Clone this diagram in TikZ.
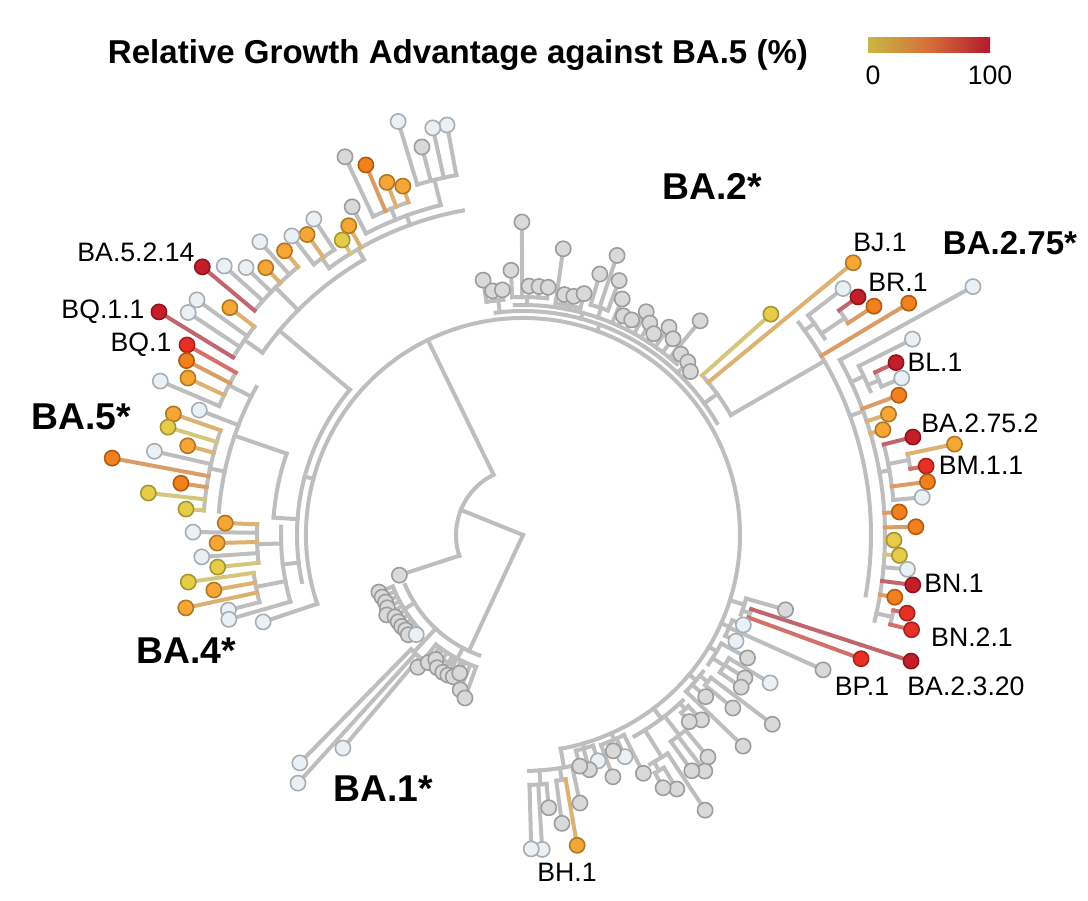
\documentclass[tikz,border=0pt]{standalone}
\usepackage{fontspec}
\setmainfont{Liberation Sans}
\usetikzlibrary{positioning}
\definecolor{color_branch}{RGB}{190,190,190}
\definecolor{color_grey}{RGB}{217,217,217}
\definecolor{color_pale}{RGB}{233,240,246}
\definecolor{color_red}{RGB}{196,30,42}
\definecolor{color_scar}{RGB}{230,48,38}
\definecolor{color_oran}{RGB}{242,128,28}
\definecolor{color_amber}{RGB}{245,166,52}
\definecolor{color_yel}{RGB}{230,205,72}
\definecolor{color_low}{RGB}{200,184,66}
\definecolor{color_mid}{RGB}{214,110,58}
\definecolor{color_high}{RGB}{178,26,44}
\pgfdeclarelayer{tips}
\pgfsetlayers{main,tips}
\newcounter{tipno}
\newcounter{cladeno}
\tikzset{
  branch/.style={draw=color_branch, line width=3pt, line cap=rect},
  tip/.style={circle, inner sep=0pt, minimum size=11.4pt, line width=1.2pt},
  tiplabel/.style={font=\fontsize{20}{24}\selectfont},
  cladelabel/.style={font=\bfseries\fontsize{28}{32}\selectfont}
}
% arc from #1 to #2 at radius #3, hung at angle #4 from radius #5
\newcommand{\clade}[5]{%
  \stepcounter{cladeno}%
  \coordinate (p\thecladeno) at (#4:#5);
  \coordinate (q\thecladeno) at (#4:#3);
  \coordinate (a\thecladeno) at (#1:#3);
  \draw[branch] (p\thecladeno) -- (q\thecladeno);
  \draw[branch] (a\thecladeno) arc[start angle=#1, end angle=#2, radius=#3];}
% angle, base radius, tip radius, fill, stem colour
\newcommand{\tipleaf}[5]{%
  \stepcounter{tipno}%
  \coordinate (b\thetipno) at (#1:#2);
  \coordinate (e\thetipno) at (#1:#3);
  \draw[branch, draw=#5] (b\thetipno) -- (e\thetipno);
  \begin{pgfonlayer}{tips}
    \node[tip, fill=#4, draw=#4!72!black] (t\thetipno) at (e\thetipno) {};
  \end{pgfonlayer}}
\newcommand{\greytip}[3]{\tipleaf{#1}{#2}{#3}{color_grey}{color_branch}}
\newcommand{\paletip}[3]{\tipleaf{#1}{#2}{#3}{color_pale}{color_branch}}
\newcommand{\hottip}[4]{\tipleaf{#1}{#2}{#3}{#4}{#4!55!color_branch}}

\begin{document}
\begin{tikzpicture}[x=0.75pt, y=0.75pt]
\useasboundingbox (-523,-365) rectangle (565,535);

% root and backbone
\clade{116}{198}{67}{158}{0}
\greytip{198}{67}{130}
\clade{198.5}{-80}{217}{116}{67}

% BA.4 / BA.5
\clade{140}{192}{226}{165}{217}
\clade{178}{196}{242}{187}{226}
\clade{177.7}{186}{266}{182}{242}
\hottip{177.7}{266}{298}{color_amber}
\paletip{179.5}{266}{330}
\hottip{181.5}{266}{306}{color_amber}
\paletip{183.9}{266}{322}
\hottip{186}{266}{307}{color_yel}
\clade{188}{194.3}{272}{191}{242}
\hottip{188}{272}{338}{color_yel}
\hottip{190.1}{272}{314}{color_amber}
\hottip{192.2}{272}{345}{color_amber}
\paletip{194.3}{272}{304}
\paletip{196}{242}{306}
\paletip{198.5}{217}{274}
% BA.5 lower
\clade{161}{176}{250}{176}{226}
\clade{151}{175.6}{305}{161}{250}
\clade{150.5}{157}{330}{153}{305}
\hottip{150.5}{330}{386}{color_scar}
\hottip{152.6}{330}{379}{color_oran}
\hottip{154.9}{330}{370}{color_amber}
\paletip{157}{330}{394}
\paletip{158.9}{305}{347}
\clade{160.9}{175.6}{320}{168}{305}
\hottip{160.9}{320}{370}{color_amber}
\hottip{163.1}{320}{371}{color_yel}
\hottip{165.1}{320}{347}{color_amber}
\paletip{167.2}{320}{378}
\hottip{169.4}{320}{418}{color_oran}
\hottip{171.4}{320}{346}{color_oran}
\hottip{173.6}{320}{377}{color_yel}
\hottip{175.6}{320}{338}{color_yel}
% BA.5 upper arm
\clade{120}{145}{318}{140}{226}
\clade{142.2}{148.5}{340}{145}{318}
\hottip{142.2}{340}{371}{color_amber}
\paletip{144.2}{340}{402}
\paletip{146.4}{340}{402}
\hottip{148.5}{340}{427}{color_red}
\clade{130}{140.1}{350}{135}{318}
\hottip{130}{350}{371}{color_amber}
\paletip{131.9}{350}{394}
\hottip{133.9}{350}{371}{color_amber}
\paletip{136}{350}{385}
\paletip{138}{350}{402}
\hottip{140.1}{350}{418}{color_red}
\clade{100.5}{126}{330}{120}{318}
\clade{123.5}{127.7}{342}{126}{330}
\paletip{123.5}{342}{379}
\hottip{125.7}{342}{370}{color_amber}
\paletip{127.7}{342}{378}
\hottip{119.4}{330}{355}{color_amber}
\hottip{121.5}{330}{346}{color_yel}
\clade{104}{117.5}{340}{110}{330}
\greytip{117.5}{340}{370}
\clade{109}{115.2}{352}{112}{340}
\hottip{109}{352}{369}{color_amber}
\hottip{111.1}{352}{378}{color_amber}
\hottip{113}{352}{402}{color_oran}
\greytip{115.2}{352}{418}
\clade{100.5}{106.8}{366}{104}{340}
\paletip{100.5}{366}{417}
\paletip{102.5}{366}{417}
\greytip{104.6}{366}{401}
\paletip{106.8}{366}{432}

% BA.2
\clade{30}{97}{224}{70}{217}
\clade{48}{92}{230}{75}{224}
\clade{94.8}{98.9}{236}{96}{224}
\greytip{98.9}{236}{258}
\greytip{97.1}{236}{246}
\greytip{94.8}{236}{246}
\clade{84.2}{92.6}{238}{89}{230}
\greytip{92.6}{238}{265}
\greytip{90.2}{238}{313}
\greytip{88.6}{238}{249}
\greytip{86.3}{238}{249}
\greytip{84.2}{238}{249}
\clade{75.8}{82}{234}{79}{230}
\greytip{82}{234}{289}
\greytip{80.2}{234}{244}
\greytip{78}{234}{244}
\greytip{75.8}{234}{249}
\clade{69.3}{73.6}{240}{71}{230}
\greytip{73.6}{240}{272}
\greytip{71.4}{240}{295}
\greytip{69.3}{240}{272}
\greytip{67.2}{230}{256}
\greytip{65.4}{230}{241}
\greytip{63.2}{230}{241}
\greytip{61.1}{230}{255}
\greytip{59.1}{230}{247}
\greytip{57}{230}{240}
\greytip{54.9}{230}{254}
\greytip{52.6}{230}{247}
\greytip{50.4}{230}{278}
\greytip{48.9}{230}{240}
\greytip{46.4}{224}{239}
\greytip{44.3}{224}{234}

% BA.2.75
\clade{30}{41.7}{240}{36}{224}
\hottip{41.7}{240}{332}{color_yel}
\hottip{39.5}{240}{428}{color_amber}
\clade{-10}{37.6}{348}{30}{240}
\clade{33.1}{37.6}{360}{36}{348}
\paletip{37.6}{360}{404}
\clade{33.1}{35.4}{388}{34}{360}
\hottip{35.4}{388}{411}{color_red}
\hottip{33.1}{388}{419}{color_oran}
\hottip{31}{348}{450}{color_oran}
\clade{-13.7}{28.9}{362}{20}{348}
\paletip{28.9}{362}{514}
\clade{22.5}{26.7}{376}{25}{362}
\paletip{26.7}{376}{436}
\clade{22.5}{24.8}{388}{23.5}{376}
\hottip{24.8}{388}{411}{color_red}
\paletip{22.5}{388}{410}
\hottip{20.4}{362}{401}{color_oran}
\hottip{18.3}{362}{385}{color_amber}
\hottip{16.3}{362}{375}{color_amber}
\clade{5.4}{14.1}{372}{10}{362}
\hottip{14.1}{372}{402}{color_red}
\clade{9.7}{11.9}{393}{11}{372}
\hottip{11.9}{393}{441}{color_amber}
\hottip{9.7}{393}{409}{color_scar}
\hottip{7.5}{372}{408}{color_oran}
\paletip{5.4}{372}{401}
\hottip{3.5}{362}{377}{color_oran}
\hottip{1.2}{362}{393}{color_oran}
\hottip{-0.8}{362}{371}{color_yel}
\hottip{-3.1}{362}{377}{color_yel}
\paletip{-5.1}{362}{386}
\hottip{-7.3}{362}{393}{color_red}
\hottip{-9.5}{362}{377}{color_oran}
\clade{-13.7}{-11.5}{378}{-12.5}{362}
\hottip{-11.5}{378}{392}{color_scar}
\hottip{-13.7}{378}{400}{color_scar}

% lower right
\clade{-15.9}{-20.1}{232}{-17.5}{217}
\greytip{-15.9}{232}{273}
\clade{-18}{-20.1}{240}{-19}{232}
\hottip{-18}{240}{408}{color_red}
\hottip{-20.1}{240}{360}{color_scar}
\clade{-22.2}{-26.5}{226}{-24}{217}
\paletip{-22.2}{226}{238}
\greytip{-24.2}{226}{329}
\paletip{-26.5}{226}{238}
\clade{-28.7}{-34.9}{226}{-31}{217}
\greytip{-28.7}{226}{256}
\clade{-30.9}{-34.9}{240}{-33}{226}
\paletip{-30.9}{240}{288}
\greytip{-32.8}{240}{264}
\greytip{-34.9}{240}{266}
\clade{-37.2}{-43.8}{226}{-40}{217}
\clade{-37.2}{-39.5}{236}{-38.5}{226}
\greytip{-37.2}{236}{313}
\greytip{-39.5}{236}{272}
\greytip{-41.5}{226}{244}
\greytip{-43.8}{226}{305}
\clade{-46}{-61}{230}{-53}{217}
\clade{-46}{-48.3}{238}{-47}{230}
\greytip{-46}{238}{257}
\greytip{-48.3}{238}{250}
\clade{-50.2}{-54.4}{254}{-52}{230}
\greytip{-50.2}{254}{289}
\greytip{-52.4}{254}{298}
\greytip{-54.4}{254}{290}
\clade{-56.5}{-61}{262}{-58}{230}
\greytip{-56.5}{262}{330}
\clade{-58.8}{-61}{272}{-60}{262}
\greytip{-58.8}{272}{297}
\greytip{-61}{272}{289}
\clade{-63.2}{-69.6}{224}{-66}{217}
\greytip{-63.2}{224}{267}
\paletip{-65.3}{224}{244}
\greytip{-67.3}{224}{234}
\greytip{-69.6}{224}{258}
\clade{-71.6}{-76.2}{222}{-74}{217}
\paletip{-71.6}{222}{238}
\greytip{-74.2}{222}{244}
\greytip{-76.2}{222}{238}
\clade{-78}{-88.5}{236}{-80}{217}
\greytip{-78}{236}{274}
\clade{-80.1}{-82.3}{248}{-81}{236}
\hottip{-80.1}{248}{315}{color_amber}
\greytip{-82.3}{248}{291}
\clade{-84.6}{-88.5}{250}{-86}{236}
\greytip{-84.6}{250}{274}
\paletip{-86.5}{250}{315}
\paletip{-88.5}{250}{314}

% BA.1
\clade{203}{250}{128}{245}{0}
\clade{201.6}{223}{140}{212}{128}
\foreach \a/\r in {201.6/155, 203.8/154, 206/153, 208.2/154, 210.4/158,
                   212.6/152, 214.8/152, 217/152, 219/151, 221/152}
  {\greytip{\a}{140}{\r}}
\paletip{223}{140}{146}
\clade{225.6}{229.8}{160}{227}{128}
\paletip{225.6}{160}{319}
\paletip{227.8}{160}{335}
\paletip{229.8}{160}{279}
\clade{231.5}{250.4}{140}{242}{128}
\clade{236}{246}{148}{241}{140}
\foreach \a/\r in {231.5/169, 233.4/159, 235/152, 237.1/158, 239.7/159,
                   241.8/159, 243.8/158, 245.4/152, 247.9/167, 250.4/173}
  {\greytip{\a}{140}{\r}}

% labels
\node[cladelabel] (l-ba2) at (189,349) {BA.2*};
\node[cladelabel, font=\bfseries\fontsize{24.8}{29}\selectfont] (l-ba275) at (487,292) {BA.2.75*};
\node[cladelabel] (l-ba1) at (-140,-254) {BA.1*};
\node[cladelabel] (l-ba4) at (-337,-116) {BA.4*};
\node[cladelabel] (l-ba5) at (-442,118) {BA.5*};
\node[tiplabel] (l-bj1) at (357,293) {BJ.1};
\node[tiplabel] (l-br1) at (375,253) {BR.1};
\node[tiplabel] (l-bl1) at (412,173) {BL.1};
\node[tiplabel] (l-ba2752) at (457,112) {BA.2.75.2};
\node[tiplabel] (l-bm11) at (458,70) {BM.1.1};
\node[tiplabel] (l-bn1) at (431,-48) {BN.1};
\node[tiplabel] (l-bn21) at (449,-102) {BN.2.1};
\node[tiplabel] (l-bp1) at (339,-151) {BP.1};
\node[tiplabel] (l-ba2320) at (443,-151) {BA.2.3.20};
\node[tiplabel] (l-bh1) at (44,-337) {BH.1};
\node[tiplabel] (l-ba5214) at (-387,283) {BA.5.2.14};
\node[tiplabel] (l-bq11) at (-420,223) {BQ.1.1};
\node[tiplabel] (l-bq1) at (-382,190) {BQ.1};

% title and colour key
\node[cladelabel, font=\bfseries\fontsize{24.8}{29}\selectfont] (title) at (-65,480) {Relative Growth Advantage against BA.5 (\%)};
\shade[left color=color_low, right color=color_high, middle color=color_mid]
  (345,482) rectangle (467,497);
\node[tiplabel] (k-low) at (350,460) {0};
\node[tiplabel] (k-high) at (467,460) {100};
\end{tikzpicture}
\end{document}
